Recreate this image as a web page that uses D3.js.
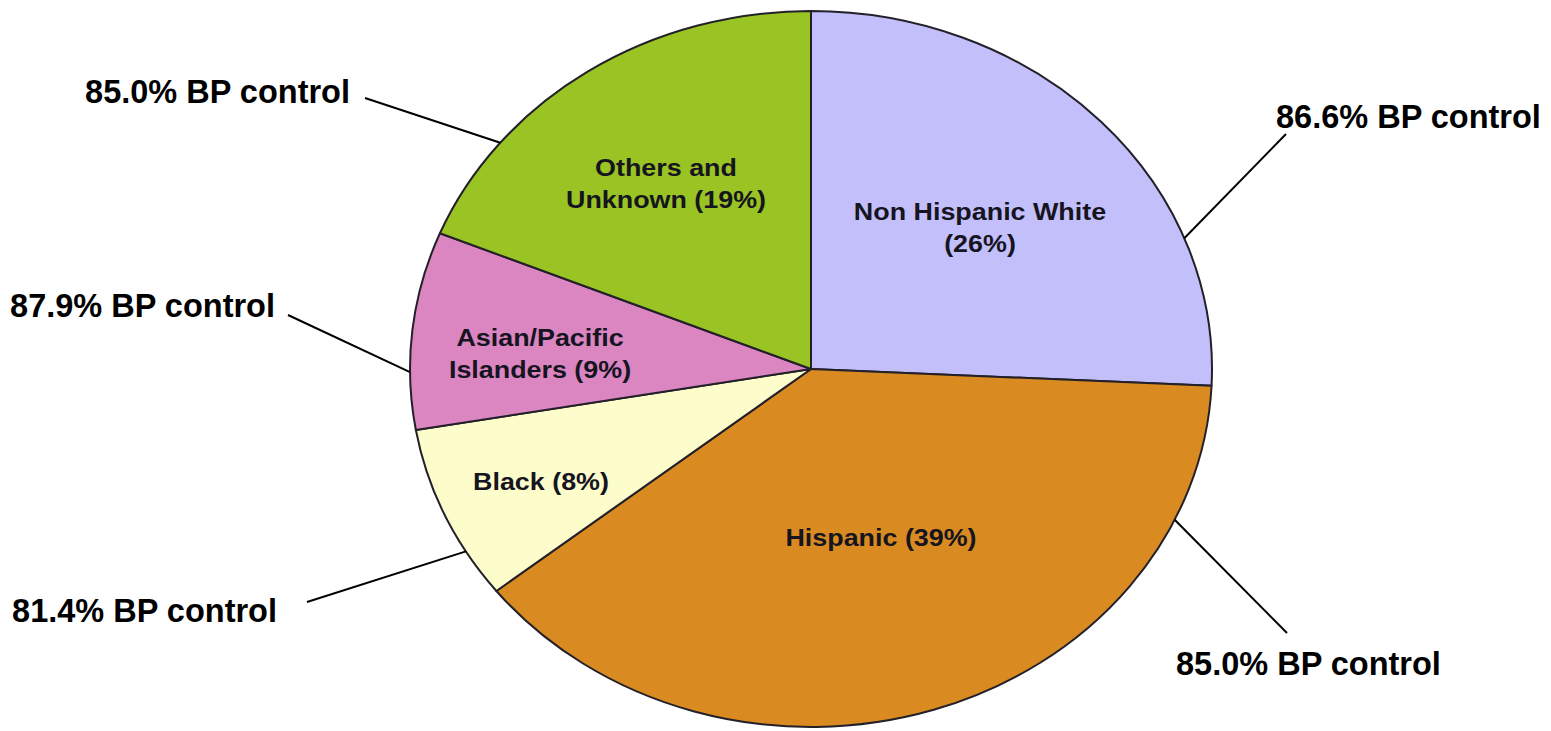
<!DOCTYPE html>
<html>
<head>
<meta charset="utf-8">
<script src="https://cdn.jsdelivr.net/npm/d3@7"></script>
<style>
  html, body { margin: 0; padding: 0; background: #fff; }
  svg { display: block; font-family: "Liberation Sans", Arial, sans-serif; }
</style>
</head>
<body>
<div id="chart"></div>
<script>
// data, clockwise from 12 o'clock
const groups = ['Non Hispanic White', 'Hispanic', 'Black', 'Asian/Pacific Islanders', 'Others and Unknown'];
const shares = [26, 39, 8, 9, 19];
const bpControl = [86.6, 85.0, 81.4, 87.9, 85.0];
const sliceLabels = [
  ['Non Hispanic White', '(26%)'],
  ['Hispanic (39%)'],
  ['Black (8%)'],
  ['Asian/Pacific', 'Islanders (9%)'],
  ['Others and', 'Unknown (19%)'],
];
const colors = ['#c2bffa', '#d98b22', '#fdfdcb', '#db86c1', '#99c423'];

// layout
const width = 1551, height = 731;
const cx = 811, cy = 369, rx = 401, ry = 358;
const sx = rx / ry;
// slice label centres (screen px)
const labelPos = [[980, 227], [881, 537], [541, 481], [540, 353], [666, 183]];
// callouts: where along the arc the leader starts, where it ends, text anchor
const callouts = [
  { frac: 0.74, end: [1286, 134], tx: 1276, ty: 128, anchor: 'start' },
  { frac: 0.16, end: [1287, 633], tx: 1176, ty: 675, anchor: 'start' },
  { frac: 0.27, end: [307, 602], tx: 277, ty: 622, anchor: 'end' },
  { frac: 0.29, end: [288, 315], tx: 275, ty: 317, anchor: 'end' },
  { frac: 0.25, end: [365, 98], tx: 350, ty: 103, anchor: 'end' },
];

const svg = d3.select('#chart').append('svg')
  .attr('width', width).attr('height', height);

const pie = d3.pie().sort(null).value(d => d)(shares);
const arc = d3.arc().innerRadius(0).outerRadius(ry);

const pieG = svg.append('g')
  .attr('transform', `translate(${cx},${cy}) scale(${sx},1)`);

pieG.selectAll('path.slice').data(pie).join('path')
  .attr('class', 'slice')
  .attr('d', arc)
  .attr('fill', (d, i) => colors[i])
  .attr('stroke', '#23202a').attr('stroke-width', 2)
  .attr('stroke-linejoin', 'round')
  .attr('vector-effect', 'non-scaling-stroke');

// labels inside slices (stretched with the ellipse)
const fs = 24, lh = 32;
sliceLabels.forEach((lines, i) => {
  const [lx, ly] = labelPos[i];
  const t = svg.append('text')
    .attr('transform', `translate(${lx},${ly}) scale(${sx},1)`)
    .attr('text-anchor', 'middle')
    .attr('font-size', fs).attr('font-weight', 'bold')
    .attr('fill', '#16141f');
  lines.forEach((ln, j) => {
    t.append('tspan')
      .attr('x', 0)
      .attr('y', (j - (lines.length - 1) / 2) * lh + fs * 0.36)
      .text(ln);
  });
});

// callouts with leader lines
const fmt = d3.format('.1f');
pie.forEach((d, i) => {
  const c = callouts[i];
  const a = d.startAngle + (d.endAngle - d.startAngle) * c.frac;
  const x0 = cx + Math.sin(a) * rx;
  const y0 = cy - Math.cos(a) * ry;
  svg.append('line')
    .attr('x1', x0).attr('y1', y0)
    .attr('x2', c.end[0]).attr('y2', c.end[1])
    .attr('stroke', '#000').attr('stroke-width', 2);
  svg.append('text')
    .attr('x', c.tx).attr('y', c.ty)
    .attr('text-anchor', c.anchor)
    .attr('font-size', 32.5).attr('font-weight', 'bold')
    .attr('fill', '#000')
    .text(`${fmt(bpControl[i])}% BP control`);
});
</script>
</body>
</html>
